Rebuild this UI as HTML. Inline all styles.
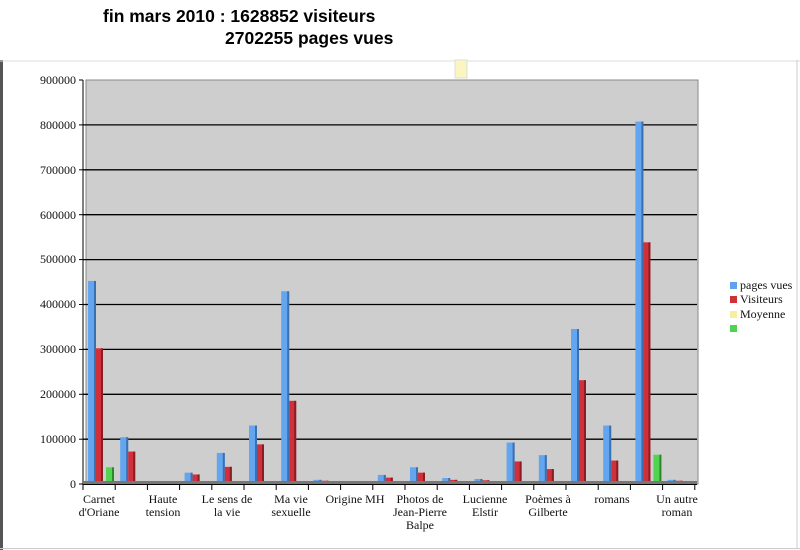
<!DOCTYPE html>
<html><head><meta charset="utf-8"><style>
html,body{margin:0;padding:0;background:#fff;width:800px;height:550px;overflow:hidden}
svg{display:block}
text{font-family:"Liberation Serif",serif;font-size:12px;fill:#111}
.t{font-family:"Liberation Sans",sans-serif;font-weight:bold;font-size:17.5px;fill:#000}
</style></head><body>
<svg id="s" width="800" height="550" viewBox="0 0 800 550">
<rect x="0" y="60" width="3" height="490" fill="#555"/>
<line x1="0" y1="61" x2="800" y2="61" stroke="#ddd"/>
<line x1="797" y1="60" x2="797" y2="548" stroke="#ccc"/>
<line x1="0" y1="548.5" x2="800" y2="548.5" stroke="#ccc"/>
<text class="t" x="103" y="22">fin mars 2010 : 1628852 visiteurs</text>
<text class="t" x="225" y="44">2702255 pages vues</text>
<rect x="455" y="60" width="12" height="18" fill="#fbf6c0" stroke="#ddd"/>
<rect x="86" y="80" width="612" height="404" fill="#cecece" stroke="#888"/>
<g id="grid"></g>
<line x1="83" y1="80" x2="83" y2="487" stroke="#000"/>
<g id="bars"></g>
<rect x="83" y="481" width="614" height="3" fill="#777"/>
<line x1="83" y1="484.5" x2="697" y2="484.5" stroke="#000"/>
<g id="ticks"></g>
<g text-anchor="end">
<text x="76" y="84">900000</text><text x="76" y="129">800000</text><text x="76" y="174">700000</text>
<text x="76" y="219">600000</text><text x="76" y="263">500000</text><text x="76" y="308">400000</text>
<text x="76" y="353">300000</text><text x="76" y="398">200000</text><text x="76" y="443">100000</text>
<text x="76" y="488">0</text>
</g>
<g text-anchor="middle">
<text x="99" y="503">Carnet</text><text x="99" y="516">d'Oriane</text>
<text x="163" y="503">Haute</text><text x="163" y="516">tension</text>
<text x="227" y="503">Le sens de</text><text x="227" y="516">la vie</text>
<text x="291" y="503">Ma vie</text><text x="291" y="516">sexuelle</text>
<text x="355" y="503">Origine MH</text>
<text x="420" y="503">Photos de</text><text x="420" y="516">Jean-Pierre</text><text x="420" y="529">Balpe</text>
<text x="485" y="503">Lucienne</text><text x="485" y="516">Elstir</text>
<text x="548" y="503">Poèmes à</text><text x="548" y="516">Gilberte</text>
<text x="612" y="503">romans</text>
<text x="677" y="503">Un autre</text><text x="677" y="516">roman</text>
</g>
<rect x="730" y="282" width="7" height="7" fill="#5fa3ec"/><text x="740" y="289">pages vues</text>
<rect x="730" y="296" width="7" height="7" fill="#d0303a"/><text x="740" y="303">Visiteurs</text>
<rect x="730" y="311" width="7" height="7" fill="#f8ef9a"/><text x="740" y="318">Moyenne</text>
<rect x="730" y="325" width="7" height="7" fill="#4fd44f"/>
</svg>
<script>
var ns="http://www.w3.org/2000/svg";
function el(p,t,a){var e=document.createElementNS(ns,t);for(var k in a)e.setAttribute(k,a[k]);document.getElementById(p).appendChild(e);}
for(var i=1;i<9;i++){var y=80+i*44.9;el("grid","line",{x1:83,x2:697,y1:y,y2:y,stroke:"#000","stroke-width":1.3});el("grid","line",{x1:79,x2:83,y1:y,y2:y,stroke:"#000"});}
el("grid","line",{x1:79,x2:83,y1:80,y2:80,stroke:"#000"});el("grid","line",{x1:79,x2:83,y1:484,y2:484,stroke:"#000"});
var d=[[450,300,35],[102,70,0],[2,2,0],[23,19,0],[67,36,0],[128,86,0],[427,183,0],[7,5,0],[2,2,0],[18,12,0],[35,23,0],[11,7,0],[9,6,0],[90,48,0],[62,31,0],[343,229,0],[128,50,0],[805,536,63],[7,5,0]];
var sw=32.2,k=0.449;
for(var j=0;j<20;j++){var x=83+j*sw;el("ticks","line",{x1:x,x2:x,y1:484,y2:490,stroke:"#000"});}
d.forEach(function(v,i){var x0=83+i*sw;
 function bar(off,w,val,c,dk){if(!val)return;var h=val*k+1;el("bars","rect",{x:x0+off,y:484-h,width:w,height:h,fill:c});el("bars","rect",{x:x0+off+w-2,y:484-h,width:2,height:h,fill:dk});}
 bar(5,8,v[0],"#63a5ee","#3a6fb0");bar(13,7,v[1],"#d0303a","#8a1c22");bar(23,8,v[2],"#52d452","#2a8a2a");
});
</script>
</body></html>
